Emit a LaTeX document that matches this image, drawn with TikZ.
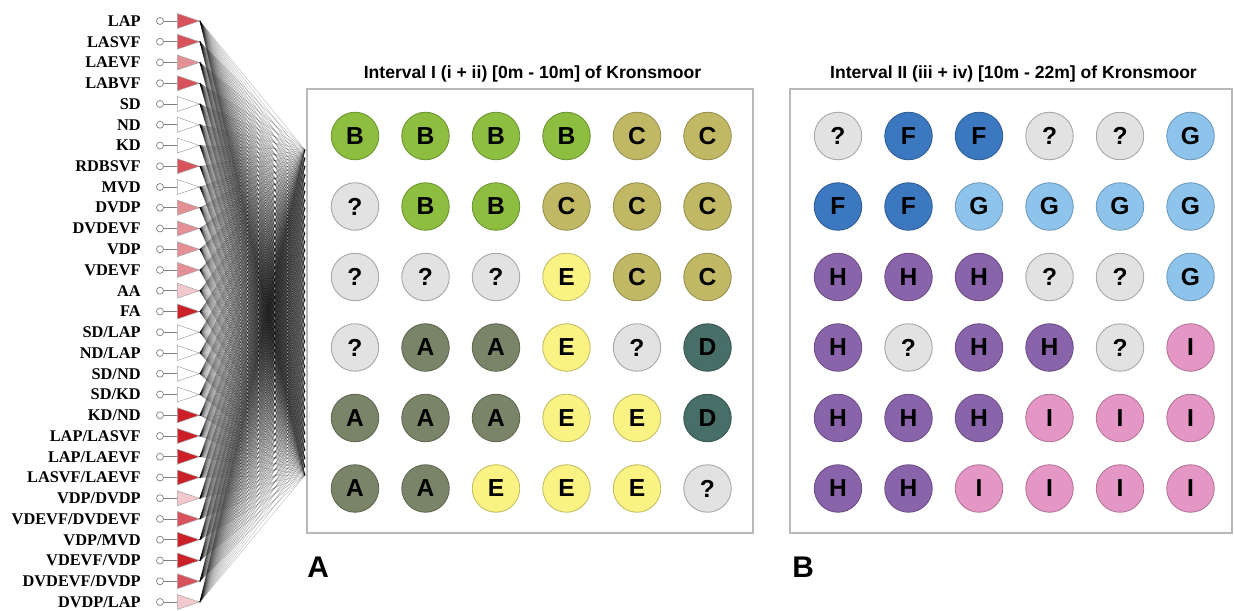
\documentclass[tikz,border=0pt]{standalone}
\usepackage{fontspec}
\setmainfont{Liberation Serif}
\newfontfamily\headfont{Liberation Sans}
\usetikzlibrary{shapes.geometric}

% triangle fills
\definecolor{redD}{RGB}{204,32,40}
\definecolor{redM}{RGB}{216,82,92}
\definecolor{redL}{RGB}{228,142,150}
\definecolor{redP}{RGB}{243,200,204}
% cluster fills
\definecolor{grA}{RGB}{122,132,104}
\definecolor{grB}{RGB}{141,190,63}
\definecolor{grC}{RGB}{192,184,100}
\definecolor{grD}{RGB}{72,110,104}
\definecolor{grE}{RGB}{250,242,130}
\definecolor{grF}{RGB}{60,120,192}
\definecolor{grG}{RGB}{142,196,236}
\definecolor{grH}{RGB}{138,100,170}
\definecolor{grI}{RGB}{228,150,196}
\definecolor{grQ}{RGB}{226,226,226}

\tikzset{
  lbl/.style={anchor=east, inner sep=0pt, font=\bfseries\fontsize{9.3}{10}\selectfont},
  port/.style={circle, draw=gray, fill=white, inner sep=0pt, minimum size=0.14cm, line width=0.4pt},
  tri/.style={isosceles triangle, isosceles triangle stretches, anchor=west, draw=gray!70,
    line width=0.3pt, inner sep=0pt, minimum width=0.3cm, minimum height=0.44cm},
  fan/.style={black, opacity=0.22, line width=0.3pt},
  frame/.style={draw=black!28, line width=0.8pt, inner sep=0pt},
  title/.style={font=\headfont\bfseries\fontsize{10}{12}\selectfont},
  panel/.style={anchor=west, inner sep=0pt, font=\headfont\bfseries\fontsize{17}{17}\selectfont},
  ball/.style={circle, draw=#1!78!black, fill=#1, line width=0.5pt, inner sep=0pt,
    minimum size=0.95cm, font=\headfont\bfseries\fontsize{14}{14}\selectfont},
  gA/.style={ball=grA, node contents=A},
  gB/.style={ball=grB, node contents=B},
  gC/.style={ball=grC, node contents=C},
  gD/.style={ball=grD, node contents=D},
  gE/.style={ball=grE, node contents=E},
  gF/.style={ball=grF, node contents=F},
  gG/.style={ball=grG, node contents=G},
  gH/.style={ball=grH, node contents=H},
  gI/.style={ball=grI, node contents=I},
  gQ/.style={ball=grQ, draw=black!35, node contents=?},
}

\begin{document}
\begin{tikzpicture}
\useasboundingbox (0,0) rectangle (24.68,12.2);

% variables
\foreach \lab/\col [count=\i] in {LAP/redM, LASVF/redM, LAEVF/redL, LABVF/redM, SD/white,
    ND/white, KD/white, RDBSVF/redM, MVD/white, DVDP/redL, DVDEVF/redL, VDP/redL,
    VDEVF/redL, AA/redP, FA/redD, {SD/LAP}/white, {ND/LAP}/white, {SD/ND}/white,
    {SD/KD}/white, {KD/ND}/redD, {LAP/LASVF}/redD, {LAP/LAEVF}/redD, {LASVF/LAEVF}/redD,
    {VDP/DVDP}/redP, {VDEVF/DVDEVF}/redM, {VDP/MVD}/redD, {VDEVF/VDP}/redD,
    {DVDEVF/DVDP}/redM, {DVDP/LAP}/redP} {
  \pgfmathsetmacro\yy{11.78-0.415*(\i-1)}
  \node[lbl] (lb\i) at (2.82, \yy) {\lab};
  \node[port] (pt\i) at (3.2, \yy) {};
  \node[tri, fill=\col] (tr\i) at (3.54, \yy) {};
  \draw[gray, line width=0.4pt] (pt\i) -- (tr\i);
}

% boxes
\node[frame, minimum width=8.92cm, minimum height=8.88cm] (boxA) at (10.6, 5.98) {};
\node[frame, minimum width=8.84cm, minimum height=8.88cm] (boxB) at (20.22, 5.98) {};
\node[title] (titleA) at (10.65, 10.72) {Interval I (i + ii) [0m - 10m] of Kronsmoor};
\node[title] (titleB) at (20.27, 10.72) {Interval II (iii + iv) [10m - 22m] of Kronsmoor};
\node[panel] (panA) at (6.14, 0.86) {A};
\node[panel] (panB) at (15.84, 0.86) {B};

% connections into interval I
\foreach \k in {1,...,40}
  \coordinate (t\k) at (6.1, {9.2-0.1667*(\k-1)});
\foreach \i in {1,...,29}
  \foreach \k in {1,...,40}
    \draw[fan] (tr\i.apex) -- (t\k);

% interval I
\foreach \row [count=\r] in {{B,B,B,B,C,C}, {Q,B,B,C,C,C}, {Q,Q,Q,E,C,C},
    {Q,A,A,E,Q,D}, {A,A,A,E,E,D}, {A,A,E,E,E,Q}}
  \foreach \g [count=\c] in \row
    \node (a\r\c) at ({7.1+1.41*(\c-1)}, {9.48-1.41*(\r-1)}) [g\g];

% interval II
\foreach \row [count=\r] in {{Q,F,F,Q,Q,G}, {F,F,G,G,G,G}, {H,H,H,Q,Q,G},
    {H,Q,H,H,Q,I}, {H,H,H,I,I,I}, {H,H,I,I,I,I}}
  \foreach \g [count=\c] in \row
    \node (b\r\c) at ({16.76+1.41*(\c-1)}, {9.48-1.41*(\r-1)}) [g\g];
\end{tikzpicture}
\end{document}
